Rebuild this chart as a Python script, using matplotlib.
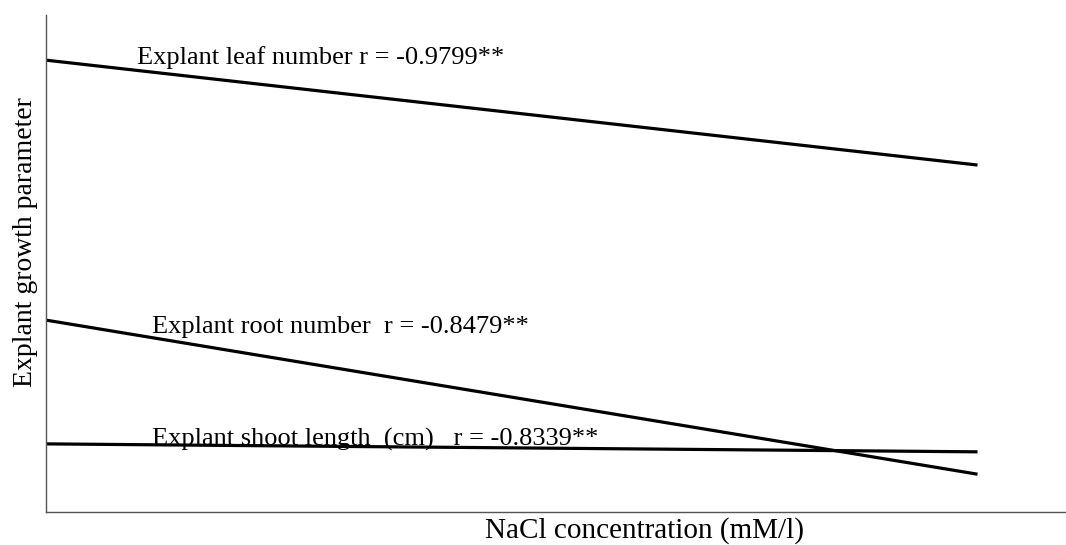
import matplotlib.pyplot as plt

# NaCl concentration endpoints of the fitted lines (arbitrary units)
nacl = [0, 200]

leaf_number = [9.09, 6.98]
root_number = [3.86, 0.76]
shoot_length = [1.37, 1.21]

labels = {
    'leaf': 'Explant leaf number r = -0.9799**',
    'root': 'Explant root number  r = -0.8479**',
    'shoot': 'Explant shoot length  (cm)   r = -0.8339**',
}

plt.rcParams['font.family'] = ['Liberation Serif', 'DejaVu Serif']

fig = plt.figure(figsize=(10.66, 5.45), dpi=100)
ax = fig.add_axes([0.0432, 0.0606, 0.9568, 0.912])

for ys in (leaf_number, root_number, shoot_length):
    ax.plot(nacl, ys, color='black', linewidth=2.3, solid_capstyle='butt')

ax.set_xlim(0, 219)
ax.set_ylim(0, 10)

ax.text(19.5, 9.14, labels['leaf'], fontsize=19, va='center')
ax.text(22.8, 3.72, labels['root'], fontsize=19, va='center')
ax.text(22.8, 1.46, labels['shoot'], fontsize=19, va='center')

ax.set_xticks([])
ax.set_yticks([])
for side in ('top', 'right'):
    ax.spines[side].set_visible(False)
for side in ('left', 'bottom'):
    ax.spines[side].set_color('#555555')
    ax.spines[side].set_linewidth(1.0)

ax.set_xlabel('NaCl concentration (mM/l)', fontsize=21)
ax.set_ylabel('Explant growth parameter', fontsize=20)
ax.xaxis.set_label_coords(0.587, -0.038, transform=ax.transAxes)
ax.xaxis.label.set_va('center')
ax.yaxis.set_label_coords(-0.02, 0.543, transform=ax.transAxes)
ax.yaxis.label.set_va('center')

plt.savefig('out.png', dpi=100)
